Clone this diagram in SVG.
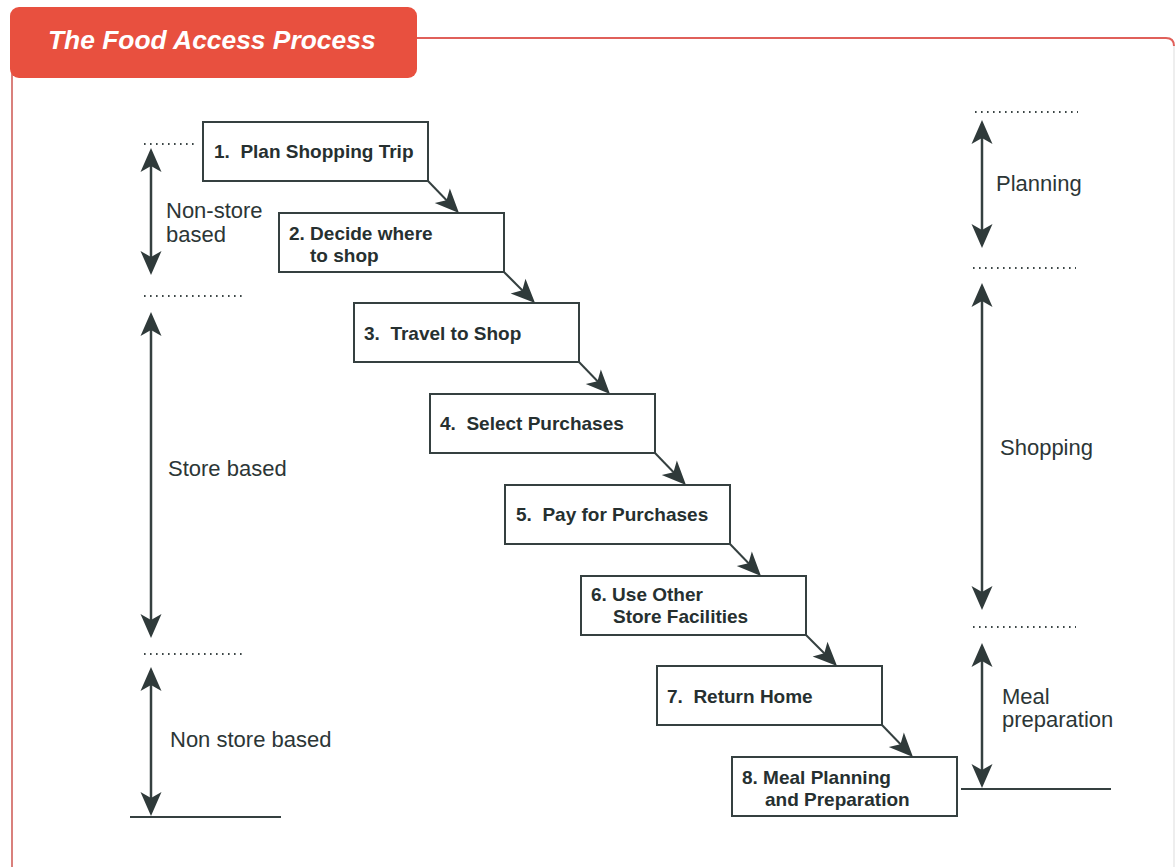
<svg xmlns="http://www.w3.org/2000/svg" width="1176" height="867" viewBox="0 0 1176 867">
  <style>
    .box { fill: #ffffff; stroke: #354040; stroke-width: 2; }
    .step { font-family: "Liberation Sans", Arial, sans-serif; font-weight: bold; font-size: 19px; fill: #263030; white-space: pre; }
    .label { font-family: "Liberation Sans", Arial, sans-serif; font-size: 22px; fill: #2c3636; }
    .flow { stroke: #354040; stroke-width: 2; fill: none; marker-end: url(#head); }
    .span { stroke: #354040; stroke-width: 2.5; fill: none; marker-start: url(#headStart); marker-end: url(#head); }
    .dots { stroke: #3c4646; stroke-width: 2; stroke-dasharray: 1.6 4.4; fill: none; }
    .rule { stroke: #354040; stroke-width: 2; fill: none; }
  </style>
  <defs>
    <marker id="head" markerUnits="userSpaceOnUse" viewBox="-26 -12 30 24" refX="-4" refY="0" markerWidth="30" markerHeight="24" orient="auto">
      <path d="M0,0 L-24,-10.5 L-18,0 L-24,10.5 Z" fill="#2f3a3a"/>
    </marker>
    <marker id="headStart" markerUnits="userSpaceOnUse" viewBox="-26 -12 30 24" refX="-4" refY="0" markerWidth="30" markerHeight="24" orient="auto-start-reverse">
      <path d="M0,0 L-24,-10.5 L-18,0 L-24,10.5 Z" fill="#2f3a3a"/>
    </marker>
  </defs>

  <rect width="1176" height="867" fill="#ffffff"/>

  <!-- frame and title tab -->
  <g id="frame">
    <path d="M416,38 H1166 Q1174,38 1174,46" stroke="#e0605a" stroke-width="2" fill="none"/>
    <line x1="1174" y1="46" x2="1174" y2="867" stroke="#eeeeee" stroke-width="2"/>
    <line x1="12" y1="70" x2="12" y2="867" stroke="#d9807c" stroke-width="2"/>
    <rect x="10" y="7" width="407" height="71" rx="9" ry="9" fill="#e8503f"/>
    <text x="48" y="49" font-family="'Liberation Sans', Arial, sans-serif" font-weight="bold" font-style="italic" font-size="26.4px" fill="#ffffff">The Food Access Process</text>
  </g>

  <!-- process steps -->
  <g id="step1">
    <rect class="box" x="203" y="122" width="225" height="59"/>
    <text class="step" x="214" y="158">1.  Plan Shopping Trip</text>
  </g>
  <g id="step2">
    <rect class="box" x="279" y="213" width="225" height="59"/>
    <text class="step" x="289" y="240">2. Decide where</text>
    <text class="step" x="310" y="262">to shop</text>
  </g>
  <g id="step3">
    <rect class="box" x="354" y="303" width="225" height="59"/>
    <text class="step" x="364" y="340">3.  Travel to Shop</text>
  </g>
  <g id="step4">
    <rect class="box" x="430" y="394" width="225" height="59"/>
    <text class="step" x="440" y="430">4.  Select Purchases</text>
  </g>
  <g id="step5">
    <rect class="box" x="505" y="485" width="225" height="59"/>
    <text class="step" x="516" y="521">5.  Pay for Purchases</text>
  </g>
  <g id="step6">
    <rect class="box" x="581" y="576" width="225" height="59"/>
    <text class="step" x="591" y="601">6. Use Other</text>
    <text class="step" x="613" y="623">Store Facilities</text>
  </g>
  <g id="step7">
    <rect class="box" x="657" y="666" width="225" height="59"/>
    <text class="step" x="667" y="703">7.  Return Home</text>
  </g>
  <g id="step8">
    <rect class="box" x="732" y="757" width="225" height="59"/>
    <text class="step" x="742" y="784">8. Meal Planning</text>
    <text class="step" x="765" y="806">and Preparation</text>
  </g>

  <!-- side scales -->
  <g id="scale-left">
    <line class="dots" x1="144" y1="144" x2="198" y2="144"/>
    <line class="dots" x1="144" y1="296" x2="245" y2="296"/>
    <line class="dots" x1="144" y1="654" x2="245" y2="654"/>
    <line class="rule" x1="130" y1="817" x2="281" y2="817"/>
    <text class="label" x="166" y="218">Non-store</text>
    <text class="label" x="166" y="242">based</text>
    <text class="label" x="168" y="476">Store based</text>
    <text class="label" x="170" y="747">Non store based</text>
  </g>
  <g id="scale-right">
    <line class="dots" x1="975" y1="112" x2="1078" y2="112"/>
    <line class="dots" x1="973" y1="268" x2="1076" y2="268"/>
    <line class="dots" x1="973" y1="627" x2="1076" y2="627"/>
    <line class="rule" x1="961" y1="789" x2="1111" y2="789"/>
    <text class="label" x="996" y="191">Planning</text>
    <text class="label" x="1000" y="455">Shopping</text>
    <text class="label" x="1002" y="704">Meal</text>
    <text class="label" x="1002" y="727">preparation</text>
  </g>

  <!-- connectors -->
  <g id="connectors">
    <path class="flow" d="M428,181 L456.2,210.2"/>
    <path class="flow" d="M504,272 L532.2,300.2"/>
    <path class="flow" d="M579,362 L607.2,391.2"/>
    <path class="flow" d="M655,453 L683.2,482.2"/>
    <path class="flow" d="M730,544 L758.2,573.2"/>
    <path class="flow" d="M806,635 L834.2,663.2"/>
    <path class="flow" d="M882,725 L910.2,754.2"/>

    <path class="span" d="M151,152 L151,271"/>
    <path class="span" d="M151,316 L151,634"/>
    <path class="span" d="M151,671 L151,812"/>

    <path class="span" d="M982,124 L982,244"/>
    <path class="span" d="M982,287 L982,606"/>
    <path class="span" d="M982,647 L982,784"/>
  </g>
</svg>
